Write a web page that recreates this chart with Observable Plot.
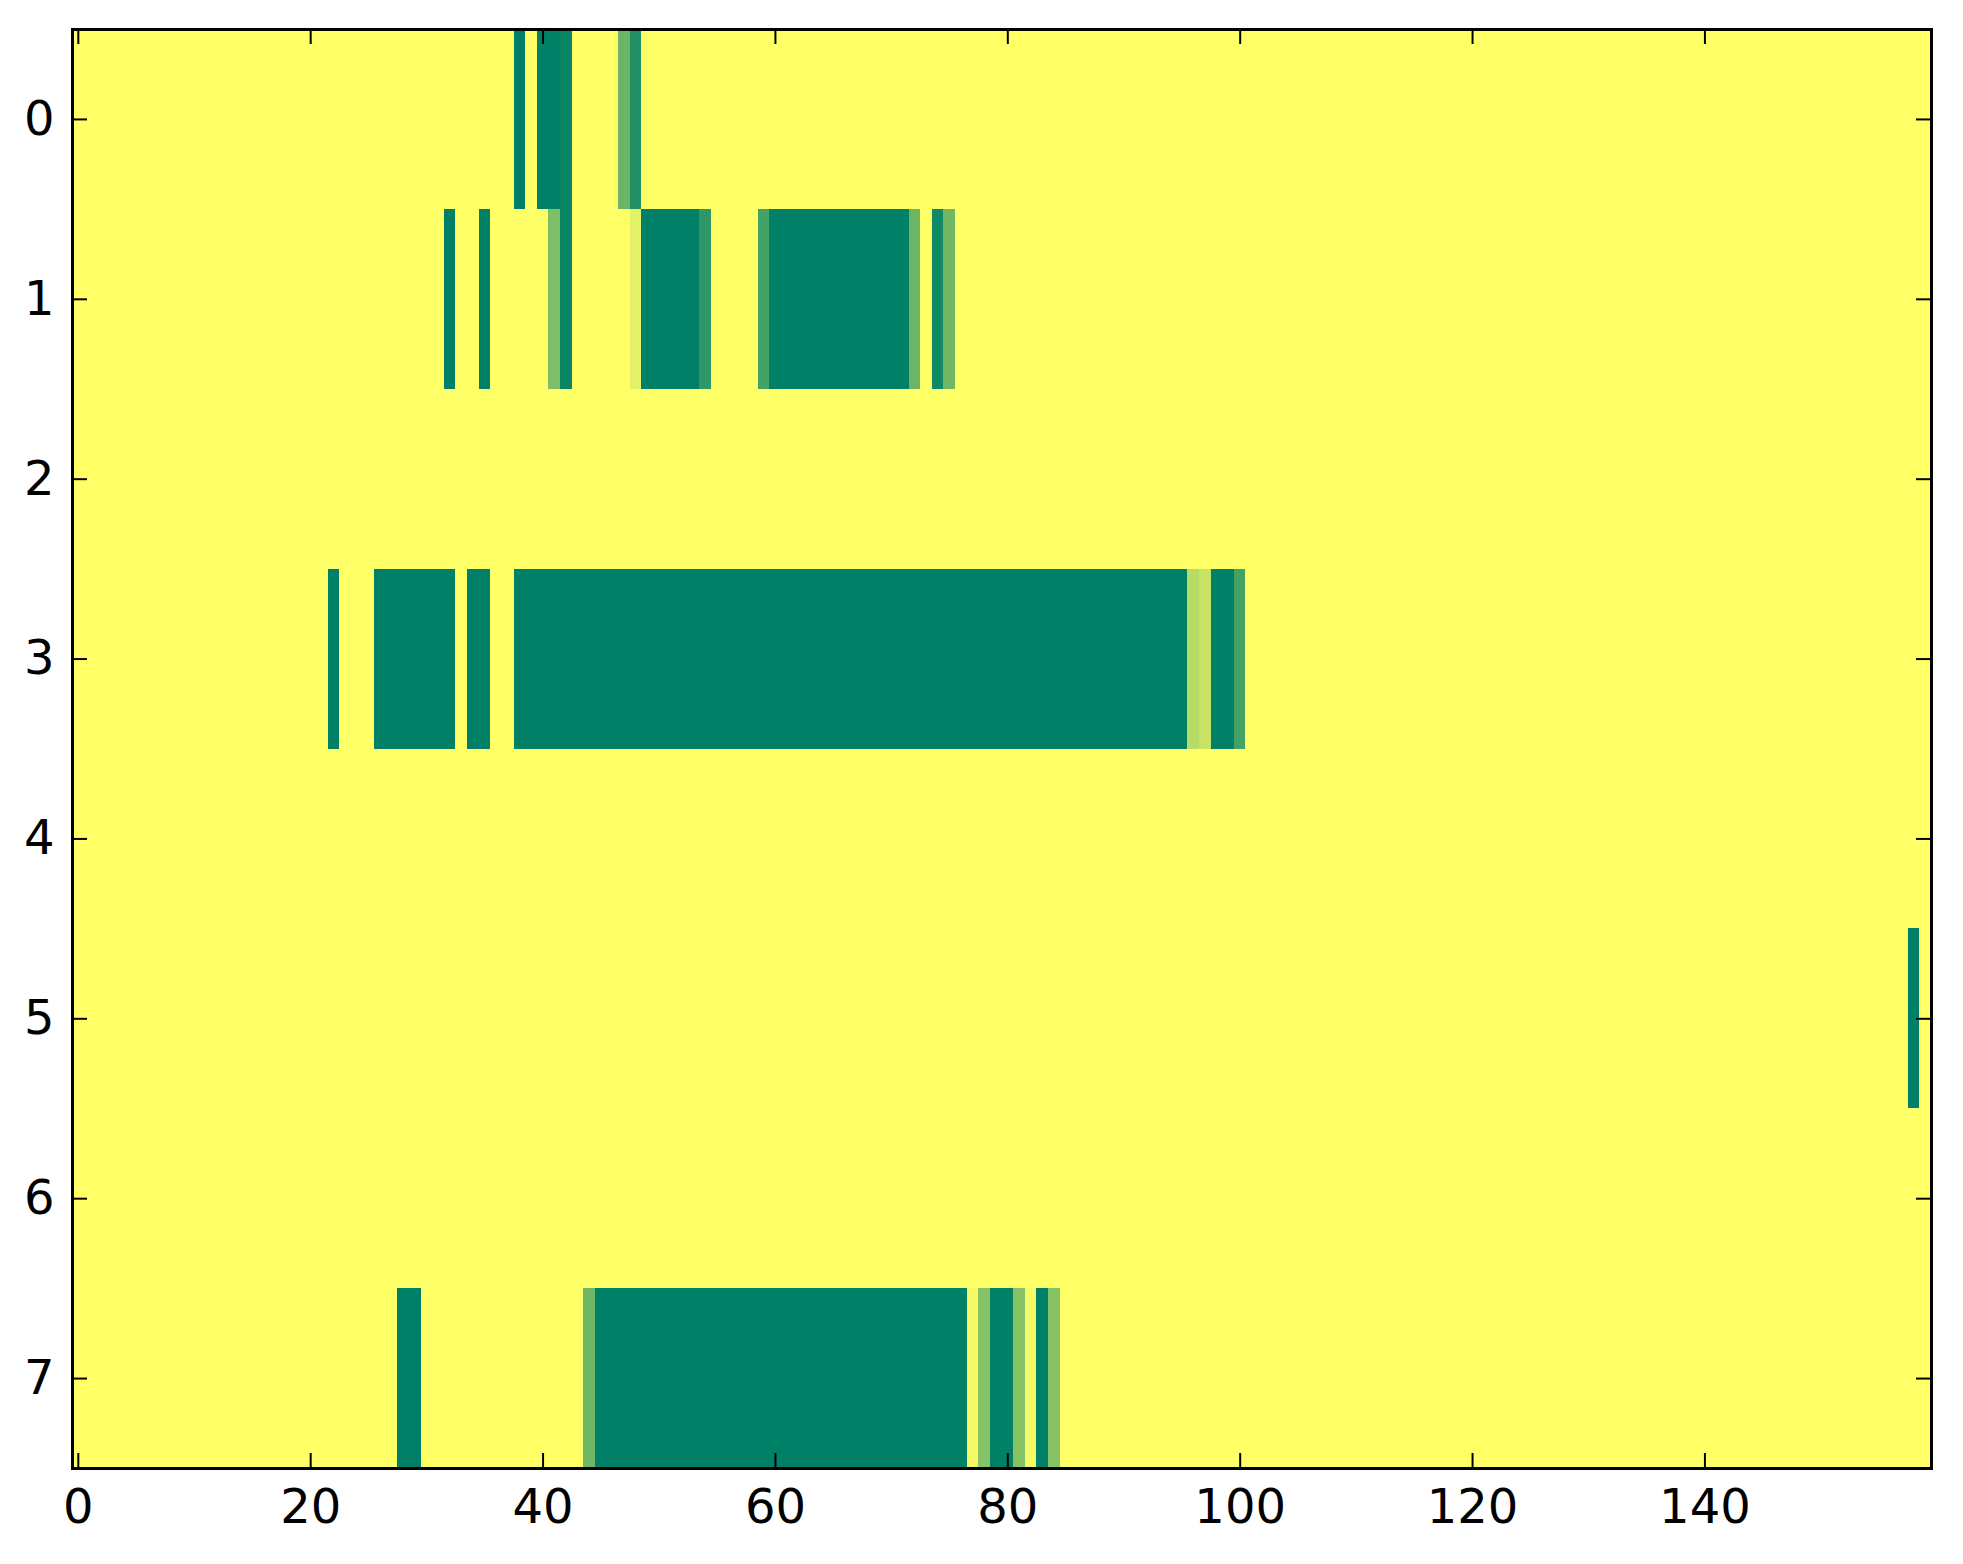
<!DOCTYPE html>
<html><head><meta charset="utf-8">
<script src="https://cdn.jsdelivr.net/npm/d3@7"></script>
<script src="https://cdn.jsdelivr.net/npm/@observablehq/plot@0.6"></script>
<style>body{margin:0;background:#fff}</style>
</head><body><div id="chart"></div>
<script>
// Grid size
const nRows = 8;
const nCols = 160;

// Non-zero runs of cells (row, first column, last column, value); all other cells are 0
const runRow   = [0, 0, 0, 0, 0,
                  1, 1, 1, 1, 1, 1, 1, 1, 1, 1, 1, 1,
                  3, 3, 3, 3, 3, 3, 3, 3,
                  5,
                  7, 7, 7, 7, 7, 7, 7, 7, 7, 7];
const runStart = [38, 40, 42, 47, 48,
                  32, 35, 41, 42, 48, 49, 54, 59, 60, 72, 74, 75,
                  22, 26, 34, 38, 96, 97, 98, 100,
                  158,
                  28, 44, 45, 77, 78, 79, 81, 82, 83, 84];
const runEnd   = [38, 41, 42, 47, 48,
                  32, 35, 41, 42, 48, 53, 54, 59, 71, 72, 74, 75,
                  22, 32, 35, 95, 96, 97, 99, 100,
                  158,
                  29, 44, 76, 77, 78, 80, 81, 82, 83, 84];
const runValue = [1, 1, 0.96, 0.58, 0.88,
                  1, 1, 0.51, 0.96, 0.11, 1, 0.81, 0.73, 1, 0.58, 0.93, 0.56,
                  1, 1, 1, 1, 0.28, 0.22, 1, 0.73,
                  1,
                  1, 0.57, 1, 0.04, 0.47, 1, 0.47, 0.04, 1, 0.47];

// Tick labels
const xTicks = [0, 20, 40, 60, 80, 100, 120, 140];
const yTicks = [0, 1, 2, 3, 4, 5, 6, 7];

// Build full cell table
const grid = [];
for (let r = 0; r < nRows; r++)
  for (let c = 0; c < nCols; c++) grid.push({row: r, col: c, value: 0});
runRow.forEach((r, i) => {
  for (let c = runStart[i]; c <= runEnd[i]; c++) grid[r * nCols + c].value = runValue[i];
});

const W = 1963, H = 1564, mL = 72, mR = 32, mT = 29, mB = 96;
const innerW = W - mL - mR, innerH = H - mT - mB;
const tickLen = 15;

const chart = Plot.plot({
  width: W, height: H,
  marginLeft: mL, marginRight: mR, marginTop: mT, marginBottom: mB,
  x: {domain: [-0.5, nCols - 0.5]},
  y: {domain: [-0.5, nRows - 0.5], reverse: true},
  color: {type: "linear", domain: [0, 1], range: ["#ffff66", "#008066"], interpolate: "rgb"},
  style: {fontFamily: "DejaVu Sans", fontSize: "48px", background: "#fff", color: "#000"},
  marks: [
    Plot.rect(grid, {x1: d => d.col - 0.5, x2: d => d.col + 0.5, y1: d => d.row - 0.5, y2: d => d.row + 0.5,
      fill: "value", shapeRendering: "crispEdges"}),
    Plot.ruleX(xTicks, {x: d => d, insetTop: innerH - tickLen, stroke: "#000", strokeWidth: 2}),
    Plot.ruleX(xTicks, {x: d => d, insetBottom: innerH - tickLen, stroke: "#000", strokeWidth: 2}),
    Plot.ruleY(yTicks, {y: d => d, insetRight: innerW - tickLen, stroke: "#000", strokeWidth: 2}),
    Plot.ruleY(yTicks, {y: d => d, insetLeft: innerW - tickLen, stroke: "#000", strokeWidth: 2}),
    Plot.frame({stroke: "#000", strokeWidth: 3}),
    Plot.axisX(xTicks, {anchor: "bottom", tickSize: 0, tickPadding: 20, label: null, fontSize: 48, tickFormat: d => String(d)}),
    Plot.axisY(yTicks, {anchor: "left", tickSize: 0, tickPadding: 18, label: null, fontSize: 48, tickFormat: d => String(d)})
  ]
});
document.getElementById("chart").appendChild(chart);
</script>
</body></html>
